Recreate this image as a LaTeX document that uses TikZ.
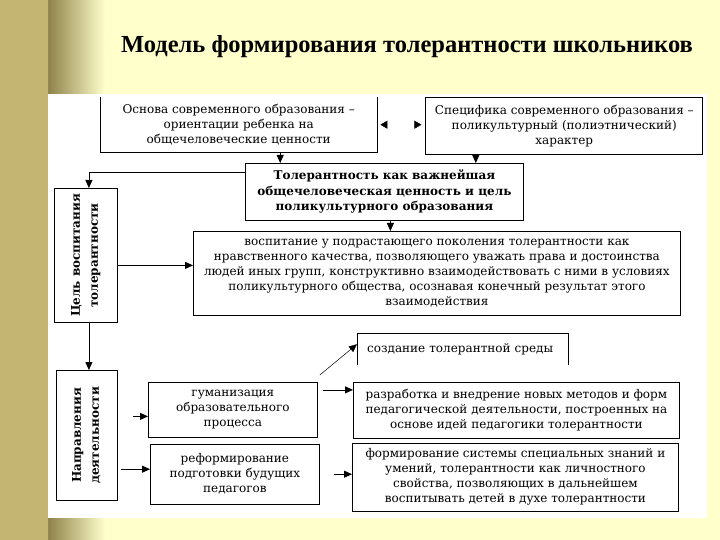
\documentclass[tikz,border=0pt]{standalone}
\usepackage{fontspec}
\setmainfont{DejaVu Serif}
\newfontfamily\titlefont{Liberation Serif}
\usetikzlibrary{positioning, arrows.meta, calc}

\definecolor{SlideBg}{HTML}{FFFFCC}
\definecolor{PillarLight}{HTML}{E6DB9E}
\definecolor{PillarMid}{HTML}{C4B572}
\definecolor{PillarDark}{HTML}{8E8249}

\tikzset{
    box/.style={rectangle, draw=black, fill=white, line width=0.8pt, align=center, inner sep=2pt, font=\fontsize{12}{15}\selectfont},
    box_b/.style={box, font=\fontsize{12}{15.5}\selectfont\bfseries},
    box_open/.style={rectangle, fill=white, align=center, inner sep=2pt, font=\fontsize{12}{15}\selectfont},
    edge/.style={line width=0.8pt, draw=black},
    arr/.style={-{Triangle[length=8pt,width=7pt]}, line width=0.8pt, draw=black},
    ttl/.style={font=\titlefont\bfseries\fontsize{24.5}{30}\selectfont},
}
\newcommand\rottext[2]{\rotatebox{90}{\bfseries\begin{tabular}{@{}c@{}}#1\\[3pt]#2\end{tabular}}}

\begin{document}
\begin{tikzpicture}[x=1pt, y=-1pt]

% Slide background
\useasboundingbox (0,0) rectangle (720,540);
\fill[SlideBg] (0,0) rectangle (720,540);
\shade[left color=PillarDark, right color=SlideBg] (48,0) rectangle (105,540);
\shade[left color=PillarMid, middle color=PillarLight, right color=PillarMid] (0,0) rectangle (48,540);
\fill[white] (48,94) rectangle (707,518);

% Title
\node[ttl] (title) at (407,47) {Модель формирования толерантности школьников};

% Top row
\node[box_open, anchor=north west, minimum width=277pt, minimum height=55pt] (osnova) at (100,97)
    {Основа современного образования --\\ориентации ребенка на\\общечеловеческие ценности};
\node[box, right=48pt of osnova.north east, anchor=north west, minimum width=277pt, minimum height=57pt] (spec)
    {Специфика современного образования --\\поликультурный (полиэтнический)\\характер};

% Value and goal
\node[box_b, anchor=north west, minimum width=278pt, minimum height=57pt] (tol) at (245,163)
    {Толерантность как важнейшая\\общечеловеческая ценность и цель\\поликультурного образования};
\node[box, anchor=north west, minimum width=63pt, minimum height=134pt] (cel) at (54,188)
    {\rottext{Цель воспитания}{толерантности}};
\node[box, anchor=north west, minimum width=487pt, minimum height=84pt] (vosp) at (193,231)
    {воспитание у подрастающего поколения толерантности как\\нравственного качества, позволяющего уважать права и достоинства\\людей иных групп, конструктивно взаимодействовать с ними в условиях\\поликультурного общества, осознавая конечный результат этого\\взаимодействия};

% Directions
\node[box, anchor=north west, minimum width=61pt, minimum height=130pt] (napr) at (56,370)
    {\rottext{Направления}{деятельности}};
\node[box, anchor=north west, minimum width=169pt, minimum height=55pt] (gum) at (148,382)
    {гуманизация\\образовательного\\процесса};
\node[box, below=6pt of gum.south west, anchor=north west, xshift=2pt, minimum width=169pt, minimum height=60pt] (reform)
    {реформирование\\подготовки будущих\\педагогов};
\node[box_open, anchor=north west, minimum height=32pt, text width=191pt, inner xsep=10pt, align=left] (sozd) at (357,333)
    {создание толерантной среды};
\node[box, anchor=north west, minimum width=326pt, minimum height=56pt] (razr) at (353,382)
    {разработка и внедрение новых методов и форм\\педагогической деятельности, построенных на\\основе идей педагогики толерантности};
\node[box, below=4pt of razr.south west, anchor=north west, xshift=-1pt, minimum width=326pt, minimum height=68pt] (form)
    {формирование системы специальных знаний и\\умений, толерантности как личностного\\свойства, позволяющих в дальнейшем\\воспитывать детей в духе толерантности};

% Open box sides
\draw[edge] (osnova.north west) |- (osnova.south east) -- (osnova.north east);
\draw[edge] (sozd.south west) |- (sozd.north east) -- (sozd.south east);

% Arrows
\draw[arrows={Triangle[length=7pt,width=8pt,color=black]-Triangle[length=7pt,width=8pt,color=black]}, draw=white, shorten <=3pt, shorten >=4pt]
    (osnova.east) -- (osnova.east -| spec.west);
\draw[arr] ([xshift=41.5pt]osnova.south) -- ([xshift=41.5pt]osnova.south |- tol.north);
\draw[arr] ([xshift=-88.5pt]spec.south) -- ([xshift=-88.5pt]spec.south |- tol.north);
\draw[arr] ([yshift=-9pt]tol.north west) -| ([xshift=3pt]cel.north);
\draw[arr] ([xshift=6pt]tol.south) -- ([xshift=6pt]tol.south |- vosp.north);
\draw[arr] ([yshift=-10pt]cel.east) -- ([yshift=-10pt]cel.east -| vosp.west);
\draw[arr] ([xshift=3pt]cel.south) -- ([xshift=3pt]cel.south |- napr.north);
\draw[arr, shorten <=15pt] ([yshift=-6.5pt]gum.west -| napr.east) -- ([yshift=-6.5pt]gum.west);
\draw[arr, shorten <=3pt] ([yshift=5pt]reform.west -| napr.east) -- ([yshift=5pt]reform.west);
\draw[arr, line width=0.5pt] ([shift={(2pt,7pt)}]gum.north east) -- ([yshift=5pt]sozd.west);
\draw[arr, shorten <=5pt] ([yshift=20pt]gum.east) -- ([yshift=20pt]gum.east -| razr.west);
\draw[arr, shorten <=14pt] (reform.east) -- (reform.east -| form.west);

\end{tikzpicture}
\end{document}
